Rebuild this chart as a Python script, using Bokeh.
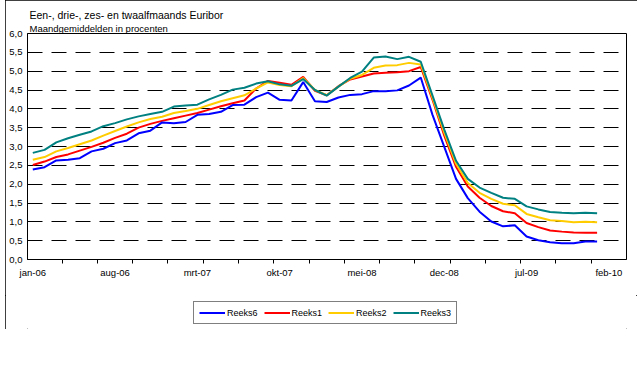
from bokeh.plotting import figure
from bokeh.layouts import column
from bokeh.models import Range1d, FixedTicker, Legend, LegendItem, Title
from bokeh.embed import file_html
from bokeh.resources import INLINE

# ---- data (monthly averages, jan-06 .. jan-10) ----
tick_labels = ["jan-06", "aug-06", "mrt-07", "okt-07", "mei-08", "dec-08", "jul-09", "feb-10"]
y_tick_labels = ["0,0", "0,5", "1,0", "1,5", "2,0", "2,5", "3,0", "3,5", "4,0", "4,5", "5,0", "5,5", "6,0"]
series_names = ["Reeks6", "Reeks1", "Reeks2", "Reeks3"]

reeks6 = [2.39, 2.45, 2.63, 2.65, 2.69, 2.87, 2.94, 3.09, 3.16, 3.35, 3.42, 3.64,
          3.62, 3.65, 3.84, 3.86, 3.92, 4.10, 4.11, 4.31, 4.43, 4.24, 4.22, 4.71,
          4.20, 4.18, 4.30, 4.37, 4.39, 4.47, 4.47, 4.49, 4.62, 4.83, 3.84, 2.99,
          2.14, 1.63, 1.27, 1.01, 0.88, 0.91, 0.61, 0.51, 0.46, 0.43, 0.43, 0.48,
          0.48]
reeks1 = [2.51, 2.60, 2.72, 2.79, 2.89, 2.99, 3.10, 3.23, 3.34, 3.50, 3.60, 3.68,
          3.75, 3.82, 3.89, 3.98, 4.07, 4.15, 4.22, 4.54, 4.74, 4.69, 4.64, 4.85,
          4.48, 4.36, 4.60, 4.78, 4.86, 4.94, 4.96, 4.97, 5.00, 5.11, 4.24, 3.29,
          2.46, 1.94, 1.64, 1.42, 1.28, 1.23, 0.97, 0.86, 0.77, 0.74, 0.72, 0.71,
          0.71]
reeks2 = [2.65, 2.72, 2.87, 2.96, 3.06, 3.16, 3.29, 3.41, 3.53, 3.64, 3.73, 3.79,
          3.89, 3.94, 4.00, 4.10, 4.20, 4.28, 4.36, 4.54, 4.70, 4.63, 4.60, 4.82,
          4.50, 4.36, 4.59, 4.80, 4.90, 5.09, 5.15, 5.16, 5.22, 5.18, 4.29, 3.37,
          2.54, 2.03, 1.77, 1.61, 1.48, 1.44, 1.21, 1.12, 1.04, 1.02, 0.99, 1.00,
          0.99]
reeks3 = [2.83, 2.91, 3.11, 3.22, 3.31, 3.40, 3.54, 3.62, 3.72, 3.80, 3.86, 3.92,
          4.06, 4.09, 4.11, 4.25, 4.37, 4.51, 4.56, 4.67, 4.73, 4.65, 4.61, 4.79,
          4.50, 4.35, 4.59, 4.82, 4.99, 5.36, 5.39, 5.32, 5.38, 5.25, 4.35, 3.45,
          2.62, 2.14, 1.91, 1.77, 1.64, 1.61, 1.41, 1.33, 1.26, 1.24, 1.23, 1.24,
          1.23]

x = list(range(len(reeks6)))
label_pos = list(range(0, 7 * len(tick_labels), 7))
minor_pos = [2.5 + 3 * k for k in range(16)]
y_ticks = [0.5 * k for k in range(len(y_tick_labels))]

FONT = "Liberation Sans"
COLORS = {"Reeks6": "#0000FF", "Reeks1": "#FF0000", "Reeks2": "#FFCC00", "Reeks3": "#008080"}
DATA = {"Reeks6": reeks6, "Reeks1": reeks1, "Reeks2": reeks2, "Reeks3": reeks3}

p = figure(width=632, height=295, output_backend="svg", toolbar_location=None,
           x_range=Range1d(-0.45, 50.5), y_range=Range1d(0, 6),
           min_border_left=22, min_border_right=11, min_border_top=33, min_border_bottom=36,
           background_fill_color="white", border_fill_color="white")
p.title.visible = False
p.outline_line_color = "black"
p.outline_line_width = 1

# x axis
xa = p.xaxis[0]
xa.ticker = FixedTicker(ticks=label_pos, minor_ticks=minor_pos)
xa.major_label_overrides = {pos: lab for pos, lab in zip(label_pos, tick_labels)}
xa.major_tick_out = 0
xa.major_tick_in = 0
xa.minor_tick_out = 4
xa.minor_tick_in = 0
xa.minor_tick_line_color = "black"
xa.axis_line_color = "black"
xa.major_label_text_font = FONT
xa.major_label_text_font_size = "9.5px"
xa.major_label_text_color = "black"
xa.major_label_standoff = 3

# y axis
ya = p.yaxis[0]
ya.ticker = FixedTicker(ticks=y_ticks)
ya.major_label_overrides = {t: lab for t, lab in zip(y_ticks, y_tick_labels)}
ya.major_tick_out = 0
ya.major_tick_in = 0
ya.minor_tick_line_color = None
ya.axis_line_color = "black"
ya.major_label_text_font = FONT
ya.major_label_text_font_size = "9.5px"
ya.major_label_text_color = "black"
ya.major_label_standoff = 5

p.xgrid.visible = False
p.ygrid.ticker = FixedTicker(ticks=y_ticks[1:-1])
p.ygrid.grid_line_color = "black"
p.ygrid.grid_line_dash = "15 9"
p.ygrid.grid_line_width = 1

for name in ["Reeks1", "Reeks2", "Reeks3", "Reeks6"]:
    p.line(x, DATA[name], line_color=COLORS[name], line_width=2)

# titles: subtitle first (closest to the frame), then the main title above it
p.add_layout(Title(text="Maandgemiddelden in procenten", align="left", offset=2, standoff=0,
                   text_font=FONT, text_font_size="9.5px", text_font_style="normal",
                   text_color="black"), "above")
p.add_layout(Title(text="Een-, drie-, zes- en twaalfmaands Euribor", align="left", offset=2,
                   standoff=0, text_font=FONT, text_font_size="10.5px",
                   text_font_style="normal", text_color="black"), "above")

# legend strip below the chart (series drawn outside its visible range, only the key shows)
lg = figure(width=632, height=34, output_backend="svg", toolbar_location=None,
            x_range=Range1d(-0.45, 50.5), y_range=Range1d(100, 101), min_border=0,
            x_axis_location=None, y_axis_location=None,
            background_fill_color="white", border_fill_color="white")
lg.title.visible = False
lg.outline_line_color = None
lg.grid.visible = False
items = []
for name in series_names:
    r = lg.line(x, DATA[name], line_color=COLORS[name], line_width=2)
    items.append(LegendItem(label=name, renderers=[r]))
legend = Legend(items=items, orientation="horizontal", location=(166, 5))
legend.margin = 0
legend.padding = 5
legend.spacing = 6
legend.glyph_width = 26
legend.glyph_height = 11
legend.label_height = 11
legend.label_standoff = 2
legend.label_text_font = FONT
legend.label_text_font_size = "9px"
legend.label_text_color = "black"
legend.border_line_color = "black"
legend.border_line_width = 1
legend.background_fill_color = "white"
legend.background_fill_alpha = 1
lg.add_layout(legend)

layout = column(p, lg, spacing=0)
layout.styles = {"outline": "1px solid black", "outline-offset": "-1px", "margin-left": "5px"}

open("out.html", "w").write(file_html(layout, INLINE))
